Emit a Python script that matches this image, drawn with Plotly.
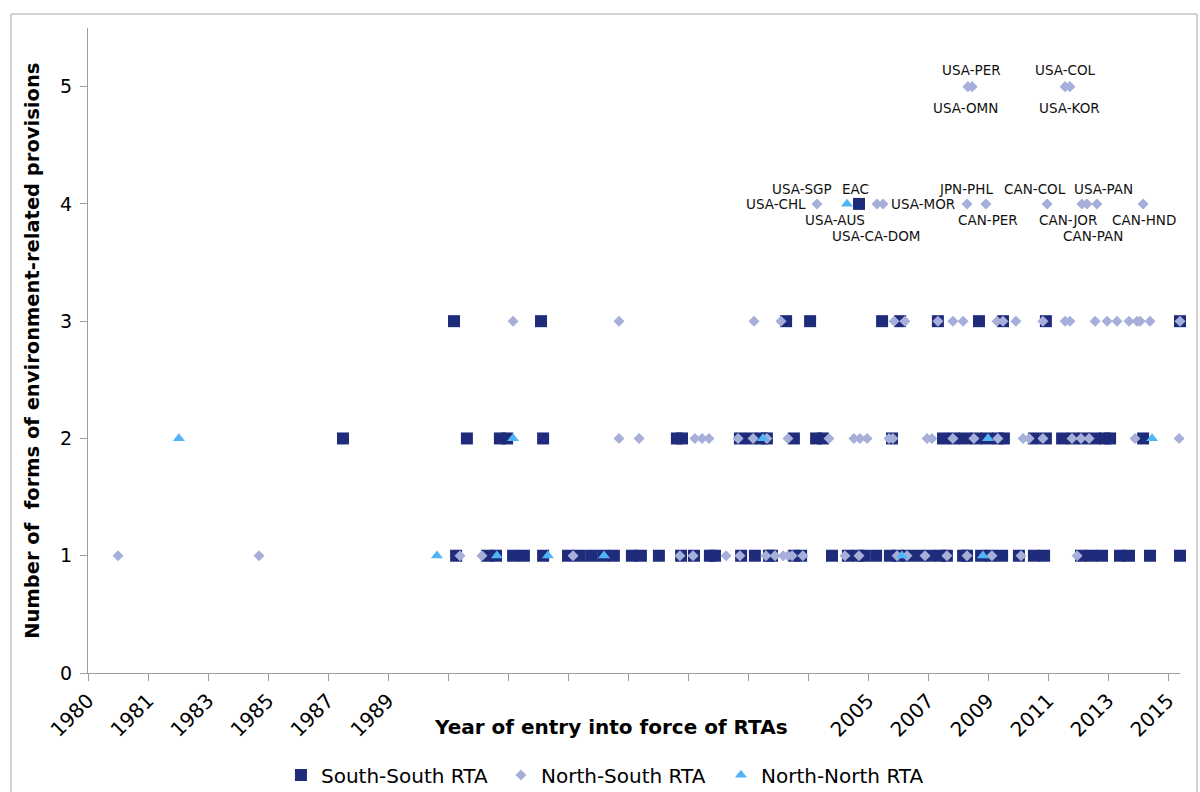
import plotly.graph_objects as go

# Year of entry into force (decimal) and number of environment-related provision forms
ss_years = [
    1991.27, 1992.30, 1992.60, 1993.17, 1993.53, 1994.17, 1995.00, 1995.37, 1995.77, 1996.17,
    1996.53, 1997.13, 1997.43, 1998.03, 1998.77, 1999.20, 1999.73, 1999.90, 2000.77, 2001.23,
    2001.70, 2001.80, 2002.53, 2002.77, 2003.80, 2004.33, 2004.67, 2004.87, 2005.27, 2005.73,
    2006.00, 2006.30, 2006.70, 2007.07, 2007.43, 2007.63, 2008.17, 2008.30, 2008.77, 2009.10,
    2009.47, 2010.03, 2010.53, 2010.87, 2012.10, 2012.43, 2012.80, 2013.40, 2013.70, 2014.40,
    2015.40,
    1987.50, 1991.63, 1992.73, 1992.97, 1994.17, 1998.63, 1998.80, 2000.73, 2001.10, 2001.47,
    2001.63, 2002.53, 2003.27, 2003.50, 2005.80, 2007.50, 2007.87, 2008.23, 2008.60, 2008.97,
    2009.33, 2009.53, 2010.53, 2010.93, 2011.47, 2011.83, 2012.20, 2012.57, 2012.90, 2013.07,
    2014.17,
    1991.20, 1994.10, 2002.27, 2003.07, 2005.47, 2006.07, 2007.33, 2008.70, 2009.50, 2010.93,
    2015.40,
    2004.70,
]
ss_counts = [1] * 51 + [2] * 31 + [3] * 11 + [4]

ns_years = [
    1980.00, 1984.70, 1991.40, 1992.13, 1995.17, 1998.73, 1999.17, 2000.27, 2000.73, 2001.60,
    2001.90, 2002.17, 2002.33, 2002.47, 2002.83, 2004.23, 2004.70, 2005.97, 2006.30, 2006.90,
    2007.63, 2008.30, 2009.13, 2010.10, 2011.97,
    1996.70, 1997.37, 1999.23, 1999.47, 1999.70, 2000.67, 2001.17, 2001.63, 2002.33, 2003.70,
    2004.53, 2004.73, 2004.97, 2005.70, 2005.83, 2006.97, 2007.13, 2007.83, 2008.53, 2009.33,
    2010.17, 2010.37, 2010.83, 2011.80, 2012.10, 2012.37, 2013.90, 2015.37,
    1993.17, 1996.70, 2001.20, 2002.10, 2005.87, 2006.23, 2007.33, 2007.83, 2008.17, 2009.30,
    2009.50, 2009.93, 2010.83, 2011.57, 2011.73, 2012.57, 2012.97, 2013.30, 2013.70, 2013.97,
    2014.07, 2014.40, 2015.40,
    2003.30, 2005.30, 2005.50, 2008.30, 2008.93, 2010.97, 2012.13, 2012.30, 2012.63, 2014.17,
    2008.33, 2008.47, 2011.57, 2011.73,
]
ns_counts = [1] * 25 + [2] * 28 + [3] * 23 + [4] * 10 + [5] * 4

nn_years = [1990.63, 1992.63, 1994.33, 1996.20, 2006.13, 2008.83,
            1982.03, 1993.17, 2001.50, 2009.00, 2014.47,
            2004.30]
nn_counts = [1] * 6 + [2] * 5 + [4]

# Named agreements: (label, year, count)
rta_names = [
    ("USA-PER", 2008.47, 5), ("USA-OMN", 2008.33, 5),
    ("USA-COL", 2011.57, 5), ("USA-KOR", 2011.73, 5),
    ("USA-SGP", 2003.30, 4), ("USA-CHL", 2003.30, 4),
    ("EAC", 2004.70, 4), ("USA-AUS", 2004.30, 4),
    ("USA-CA-DOM", 2005.30, 4), ("USA-MOR", 2005.50, 4),
    ("JPN-PHL", 2008.30, 4), ("CAN-PER", 2008.93, 4),
    ("CAN-COL", 2010.97, 4), ("USA-PAN", 2012.63, 4),
    ("CAN-JOR", 2012.13, 4), ("CAN-PAN", 2012.30, 4),
    ("CAN-HND", 2014.17, 4),
]
# Pixel offsets of each name from its marker
name_offsets = {
    "USA-PER": (-1, 17), "USA-OMN": (-2, -21), "USA-COL": (0, 17), "USA-KOR": (0, -21),
    "USA-SGP": (-15, 15), "USA-CHL": (-41, 0), "EAC": (-4, 15), "USA-AUS": (-12, -16),
    "USA-CA-DOM": (-1, -32), "USA-MOR": (40, 0), "JPN-PHL": (-1, 15), "CAN-PER": (2, -16),
    "CAN-COL": (-12, 15), "USA-PAN": (7, 15), "CAN-JOR": (-14, -16), "CAN-PAN": (6, -32),
    "CAN-HND": (1, -16),
}

tick_years = [1979, 1981, 1983, 1985, 1987, 1989, 1991, 1993, 1995, 1997,
              1999, 2001, 2003, 2005, 2007, 2009, 2011, 2013, 2015]
tick_labels = ["1980", "1981", "1983", "1985", "1987", "1989", "", "", "", "",
               "", "", "", "2005", "2007", "2009", "2011", "2013", "2015"]

FONT = "DejaVu Sans, Verdana, sans-serif"
AXIS_GREY = "#9E9E9E"

fig = go.Figure()
fig.add_trace(go.Scatter(
    x=ss_years, y=ss_counts, mode="markers", name="South-South RTA", cliponaxis=False,
    marker=dict(symbol="square", size=12, color="#1F2C7C", line=dict(width=0)),
))
fig.add_trace(go.Scatter(
    x=ns_years, y=ns_counts, mode="markers", name="North-South RTA", cliponaxis=False,
    marker=dict(symbol="diamond", size=8.5, color="#A6AFD9", line=dict(width=0)),
))
fig.add_trace(go.Scatter(
    x=nn_years, y=nn_counts, mode="markers", name="North-North RTA", cliponaxis=False,
    marker=dict(symbol="triangle-up", size=10.5, color="#52B4F8", line=dict(width=0)),
))

for label, yr, cnt in rta_names:
    dx, dy = name_offsets[label]
    fig.add_annotation(x=yr, y=cnt, xref="x", yref="y", text=label, showarrow=False,
                       xshift=dx, yshift=dy, xanchor="center", yanchor="middle",
                       font=dict(family=FONT, size=13.5, color="#111111"))

fig.add_annotation(x=0.479, y=-0.084, xref="paper", yref="paper", showarrow=False,
                   text="<b>Year of entry into force of RTAs</b>", xanchor="center",
                   yanchor="middle", font=dict(family=FONT, size=20, color="#000000"))
fig.add_annotation(x=-0.051, y=0.5, xref="paper", yref="paper", showarrow=False,
                   text="<b>Number of\u00a0 forms of environment-related provisions</b>",
                   textangle=-90, xanchor="center", yanchor="middle",
                   font=dict(family=FONT, size=19.5, color="#000000"))

# Chart-area frame
fig.add_shape(type="rect", xref="paper", yref="paper",
              x0=-0.0705, x1=1.0156, y0=-0.2, y1=1.0217,
              line=dict(color="#A8A8A8", width=1), fillcolor="rgba(0,0,0,0)")

fig.update_xaxes(range=[1979, 2015.4], tickmode="array", tickvals=tick_years,
                 ticktext=tick_labels, tickangle=-45, ticks="outside", ticklen=7,
                 tickcolor=AXIS_GREY, showline=True, linecolor=AXIS_GREY, linewidth=1,
                 showgrid=False, zeroline=False, automargin=False,
                 tickfont=dict(family=FONT, size=20, color="#000000"))
fig.update_yaxes(range=[0, 5.5], tickmode="array", tickvals=[0, 1, 2, 3, 4, 5],
                 ticks="outside", ticklen=7, tickcolor=AXIS_GREY, showline=True,
                 linecolor=AXIS_GREY, linewidth=1, showgrid=False, zeroline=False,
                 automargin=False, ticklabelstandoff=4,
                 tickfont=dict(family=FONT, size=19, color="#000000"))

fig.update_layout(
    width=1200, height=792,
    margin=dict(l=88, r=20, t=28, b=119, autoexpand=False),
    plot_bgcolor="white", paper_bgcolor="white",
    font=dict(family=FONT),
    showlegend=True,
    legend=dict(orientation="h", x=0.1767, xanchor="left", y=-0.158, yanchor="middle",
                entrywidth=175, entrywidthmode="pixels",
                font=dict(family=FONT, size=20, color="#000000"),
                bgcolor="rgba(0,0,0,0)"),
)

fig.write_html("out.html")
